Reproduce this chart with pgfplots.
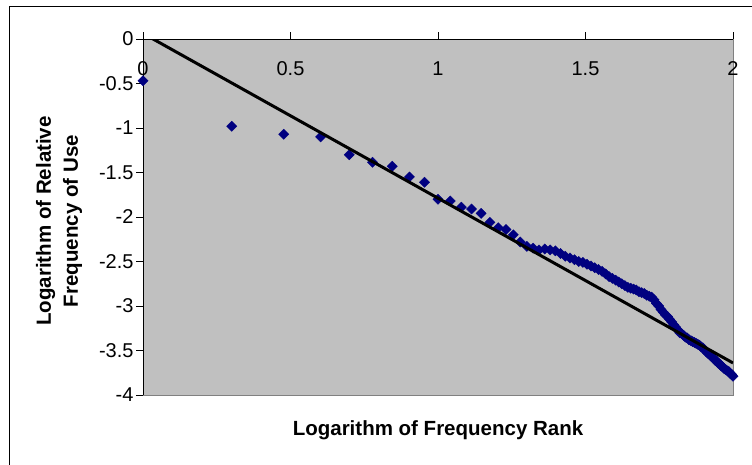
\documentclass[border=0pt]{standalone}
\usepackage{fontspec}
\setmainfont{Liberation Sans}
\usepackage{pgfplots}
\pgfplotsset{compat=1.18}
\definecolor{plotgray}{RGB}{192,192,192}
\definecolor{edgegray}{RGB}{128,128,128}
\definecolor{navymark}{RGB}{0,0,128}

\pgfplotstableread{
x y
0.0000 -0.47
0.3010 -0.98
0.4771 -1.07
0.6021 -1.10
0.6990 -1.30
0.7782 -1.385
0.8451 -1.43
0.9031 -1.55
0.9542 -1.61
1.0000 -1.80
1.0414 -1.82
1.0792 -1.89
1.1139 -1.91
1.1461 -1.96
1.1761 -2.06
1.2041 -2.12
1.2304 -2.14
1.2553 -2.20
1.2788 -2.28
1.3010 -2.33
1.3222 -2.35
1.3424 -2.37
1.3617 -2.36
1.3802 -2.37
1.3979 -2.38
1.4150 -2.41
1.4314 -2.44
1.4472 -2.46
1.4624 -2.48
1.4771 -2.50
1.4914 -2.51
1.5051 -2.53
1.5185 -2.55
1.5315 -2.57
1.5441 -2.59
1.5563 -2.61
1.5682 -2.64
1.5798 -2.67
1.5911 -2.69
1.6021 -2.71
1.6128 -2.73
1.6232 -2.75
1.6335 -2.77
1.6435 -2.79
1.6532 -2.80
1.6628 -2.81
1.6721 -2.82
1.6812 -2.84
1.6902 -2.85
1.6990 -2.86
1.7076 -2.88
1.7160 -2.89
1.7243 -2.90
1.7324 -2.93
1.7404 -2.97
1.7482 -3.00
1.7559 -3.04
1.7634 -3.07
1.7709 -3.10
1.7782 -3.12
1.7853 -3.15
1.7924 -3.18
1.7993 -3.21
1.8062 -3.24
1.8129 -3.27
1.8195 -3.30
1.8261 -3.31
1.8325 -3.33
1.8388 -3.35
1.8451 -3.36
1.8513 -3.38
1.8573 -3.39
1.8633 -3.40
1.8692 -3.41
1.8751 -3.42
1.8808 -3.43
1.8865 -3.44
1.8921 -3.46
1.8976 -3.47
1.9031 -3.49
1.9085 -3.51
1.9138 -3.53
1.9191 -3.54
1.9243 -3.56
1.9294 -3.57
1.9345 -3.59
1.9395 -3.61
1.9445 -3.62
1.9494 -3.64
1.9542 -3.65
1.9590 -3.67
1.9638 -3.68
1.9685 -3.70
1.9731 -3.71
1.9777 -3.72
1.9823 -3.73
1.9868 -3.74
1.9912 -3.76
1.9956 -3.77
2.0000 -3.79
}\zipfdata

\begin{document}
\begin{tikzpicture}
\useasboundingbox (0pt,0pt) rectangle (752pt,-464pt);
\draw[line width=0.9pt] (9pt,-6pt) rectangle (770pt,-480pt);
\begin{axis}[
    at={(143pt,-39pt)}, anchor=north west,
    width=590pt, height=356pt, scale only axis,
    xmin=0, xmax=2, ymin=-4, ymax=0,
    axis x line*=top, axis y line*=left,
    axis line style={black, line width=0.9pt},
    axis background/.style={fill=plotgray, draw=edgegray, line width=0.9pt},
    xtick={0,0.5,1,1.5,2}, xticklabels={0,0.5,1,1.5,2},
    ytick={0,-0.5,-1,-1.5,-2,-2.5,-3,-3.5,-4},
    yticklabels={0,-0.5,-1,-1.5,-2,-2.5,-3,-3.5,-4},
    tick align=outside, major tick length=7pt,
    tick style={black, line width=0.8pt},
    ticklabel style={font=\fontsize{20}{22}\selectfont},
    xticklabel style={anchor=base, yshift=-43pt},
    yticklabel style={anchor=east, xshift=1pt},
    clip mode=individual,
]
\addplot[only marks, mark=square*, mark size=3.6pt,
    mark options={rotate=45, fill=navymark, draw=navymark}]
    table[x=x, y=y] {\zipfdata};
\addplot[black, line width=3pt] coordinates {(0,0.063) (2,-3.64)};
\end{axis}
\node[rotate=90, align=center, font=\bfseries\fontsize{20.5}{27}\selectfont]
    at (59pt,-221pt) {Logarithm of Relative\\Frequency of Use};
\node[font=\bfseries\fontsize{20.5}{24}\selectfont] at (438pt,-430pt)
    {Logarithm of Frequency Rank};
\end{tikzpicture}
\end{document}
